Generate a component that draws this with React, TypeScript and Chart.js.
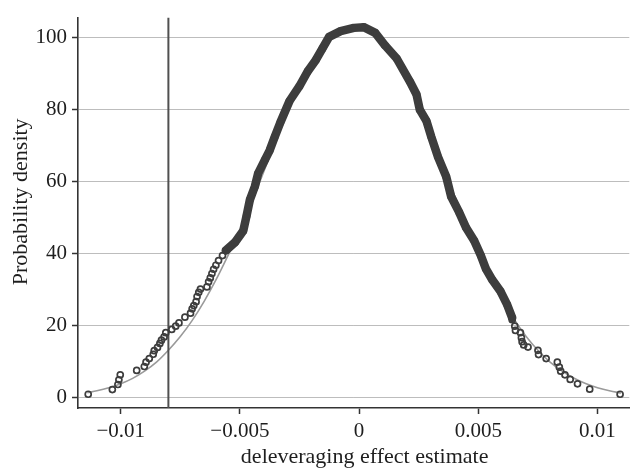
import { useEffect, useRef } from "react";
import { Chart, registerables } from "chart.js";

Chart.register(...registerables);

// Left tail of the simulated estimates (individual circles)
const leftTailX = [
  -0.011364, -0.010351, -0.010118, -0.010077, -0.010019, -0.00933, -0.00901, -0.008939,
  -0.008802, -0.008636, -0.008595, -0.008457, -0.008358, -0.008292, -0.00818, -0.008109,
  -0.00786, -0.007694, -0.007557, -0.007307, -0.007071, -0.007004, -0.006934, -0.006838,
  -0.006797, -0.006726, -0.006656, -0.006382, -0.006313, -0.006242, -0.006174, -0.006103,
  -0.006008, -0.005896, -0.00573, -0.005593,
];
const leftTailY = [
  1.0, 2.3, 3.7, 5.0, 6.4, 7.6, 8.7, 9.9, 10.9, 12.1, 13.1, 14.0, 15.1, 16.0, 16.9, 18.1,
  19.0, 19.9, 20.8, 22.4, 23.5, 24.7, 25.6, 26.7, 28.1, 29.3, 30.2, 30.8, 32.2, 33.3, 34.5,
  35.7, 36.8, 38.1, 39.5, 40.9,
];

// Dense central part of the estimates
const coreX = [
  -0.005593, -0.005203, -0.004858, -0.004721, -0.00458, -0.004372, -0.004235, -0.003957,
  -0.00375, -0.003542, -0.0033, -0.002919, -0.002504, -0.002159, -0.001814, -0.001536,
  -0.001258, -0.000776, -0.00022, 0.000195, 0.000677, 0.001092, 0.001578, 0.00213, 0.00241,
  0.002545, 0.002823, 0.003031, 0.003309, 0.003654, 0.003861, 0.004206, 0.004484, 0.004829,
  0.005107, 0.005314, 0.005593, 0.005937, 0.006216, 0.006423,
];
const coreY = [
  40.9, 43.2, 46.4, 50.5, 55.0, 58.7, 62.3, 66.0, 68.7, 72.4, 76.5, 82.4, 86.5, 90.6, 93.8,
  97.0, 100.2, 101.8, 102.7, 102.9, 101.3, 97.8, 94.2, 87.8, 84.2, 80.0, 76.9, 72.4, 66.9,
  61.4, 55.9, 51.4, 47.3, 43.6, 39.5, 35.9, 32.7, 29.5, 25.8, 22.2,
];

// Right tail of the simulated estimates
const rightTailX = [
  0.006423, 0.006531, 0.00656, 0.006768, 0.006809, 0.006838, 0.006905, 0.007087, 0.007503,
  0.007528, 0.007847, 0.008316, 0.0084, 0.008458, 0.008636, 0.008856, 0.009163, 0.009674,
  0.010949,
];
const rightTailY = [
  21.7, 19.9, 18.7, 18.1, 16.7, 15.6, 14.7, 14.1, 13.2, 12.0, 10.9, 9.9, 8.5, 7.4, 6.4, 5.1,
  3.9, 2.4, 1.0,
];

// Fitted normal density (grey line)
const fitX = [
  -0.0114, -0.011, -0.0105, -0.01, -0.0095, -0.009, -0.0085, -0.008, -0.0075, -0.007, -0.0065,
  -0.006, -0.0055, -0.005, -0.0045, -0.004, -0.0035, -0.003, -0.0025, -0.002, -0.0015, -0.001,
  -0.0005, 0, 0.0005, 0.001, 0.0015, 0.002, 0.0025, 0.003, 0.0035, 0.004, 0.0045, 0.005, 0.0055,
  0.006, 0.0065, 0.007, 0.0075, 0.008, 0.0085, 0.009, 0.0095, 0.01, 0.0105, 0.011,
];
const fitY = [
  1.44, 1.95, 2.8, 3.9, 5.4, 7.4, 9.9, 13.2, 17.0, 21.5, 26.8, 32.8, 39.5, 46.5, 54.3, 62.8,
  71.2, 79.3, 86.6, 92.9, 97.8, 101.2, 102.9, 103.0, 101.5, 98.5, 94.0, 87.9, 80.7, 72.8, 64.5,
  56.2, 48.1, 40.5, 33.5, 27.3, 21.8, 17.1, 13.2, 10.0, 7.5, 5.5, 3.96, 2.81, 1.95, 1.34,
];

const cutoffValue = -0.008;

const xTickValues = [-0.01, -0.005, 0, 0.005, 0.01];
const xTickLabels = ["\u22120.01", "\u22120.005", "0", "0.005", "0.01"];
const yTickValues = [0, 20, 40, 60, 80, 100];
const yTickLabels = ["0", "20", "40", "60", "80", "100"];

const xTitle = "deleveraging effect estimate";
const yTitle = "Probability density";

const X_MIN = -0.011792;
const X_MAX = 0.011335;
const Y_MIN = -2.82;
const Y_MAX = 105.55;

const FONT = "'Liberation Serif', 'DejaVu Serif', serif";
const TEXT = "#1e1e1e";
const MARK = "#3d3d3d";

const zip = (xs: number[], ys: number[]) => xs.map((x, i) => ({ x, y: ys[i] }));

export default function App() {
  const ref = useRef<HTMLCanvasElement | null>(null);

  useEffect(() => {
    if (!ref.current) return;
    const allPoints = [
      ...zip(leftTailX, leftTailY),
      ...zip(coreX, coreY),
      ...zip(rightTailX, rightTailY),
    ];
    const chart = new Chart(ref.current, {
      type: "scatter",
      data: {
        datasets: [
          {
            label: "estimates",
            data: allPoints,
            showLine: false,
            pointStyle: "circle",
            pointRadius: 3,
            pointBorderWidth: 1.7,
            pointBorderColor: MARK,
            pointBackgroundColor: "rgba(0,0,0,0)",
          },
          {
            label: "core",
            data: zip(coreX, coreY),
            showLine: true,
            borderColor: MARK,
            borderWidth: 8.5,
            borderCapStyle: "round",
            borderJoinStyle: "round",
            pointRadius: 0,
            tension: 0,
          },
          {
            label: "cutoff",
            data: [
              { x: cutoffValue, y: Y_MIN },
              { x: cutoffValue, y: Y_MAX },
            ],
            showLine: true,
            borderColor: "#505050",
            borderWidth: 2,
            pointRadius: 0,
          },
          {
            label: "normal",
            data: zip(fitX, fitY),
            showLine: true,
            borderColor: "#9a9a9a",
            borderWidth: 1.6,
            pointRadius: 0,
            tension: 0.3,
          },
        ],
      },
      options: {
        animation: false,
        responsive: false,
        events: [],
        layout: { padding: { top: 12, right: 0, left: 0, bottom: 0 } },
        plugins: {
          legend: { display: false },
          tooltip: { enabled: false },
        },
        scales: {
          x: {
            type: "linear",
            min: X_MIN,
            max: X_MAX,
            afterBuildTicks: (s: any) => {
              s.ticks = xTickValues.map((v) => ({ value: v }));
            },
            afterFit: (s: any) => {
              s.height = 62;
            },
            ticks: {
              autoSkip: false,
              maxRotation: 0,
              padding: 5,
              color: TEXT,
              font: { family: FONT, size: 21 },
              callback: (v: any) => {
                const i = xTickValues.indexOf(Number(v));
                return i >= 0 ? xTickLabels[i] : "";
              },
            },
            grid: {
              display: true,
              drawOnChartArea: false,
              drawTicks: true,
              tickLength: 6,
              tickColor: "#333",
              tickWidth: 1.5,
            },
            border: { display: true, color: "#333", width: 1.6 },
            title: {
              display: true,
              text: "    " + xTitle,
              color: TEXT,
              font: { family: FONT, size: 22 },
              padding: { top: 0, bottom: 0 },
            },
          },
          y: {
            type: "linear",
            min: Y_MIN,
            max: Y_MAX,
            afterBuildTicks: (s: any) => {
              s.ticks = yTickValues.map((v) => ({ value: v }));
            },
            afterFit: (s: any) => {
              s.width = 78;
            },
            ticks: {
              autoSkip: false,
              padding: 5,
              color: TEXT,
              font: { family: FONT, size: 21 },
              callback: (v: any) => {
                const i = yTickValues.indexOf(Number(v));
                return i >= 0 ? yTickLabels[i] : "";
              },
            },
            grid: {
              display: true,
              drawOnChartArea: true,
              drawTicks: true,
              tickLength: 6,
              color: "#bdbdbd",
              lineWidth: 1,
              tickColor: "#333",
              tickWidth: 1.5,
            },
            border: { display: true, color: "#333", width: 1.6 },
            title: {
              display: true,
              text: "    " + yTitle,
              color: TEXT,
              font: { family: FONT, size: 22 },
              padding: { top: 8, bottom: 0 },
            },
          },
        },
      },
    });
    return () => chart.destroy();
  }, []);

  return (
    <div style={{ position: "fixed", left: 0, top: 0, width: 635, height: 470, background: "#fff" }}>
      <canvas ref={ref} width={635} height={470} />
    </div>
  );
}
